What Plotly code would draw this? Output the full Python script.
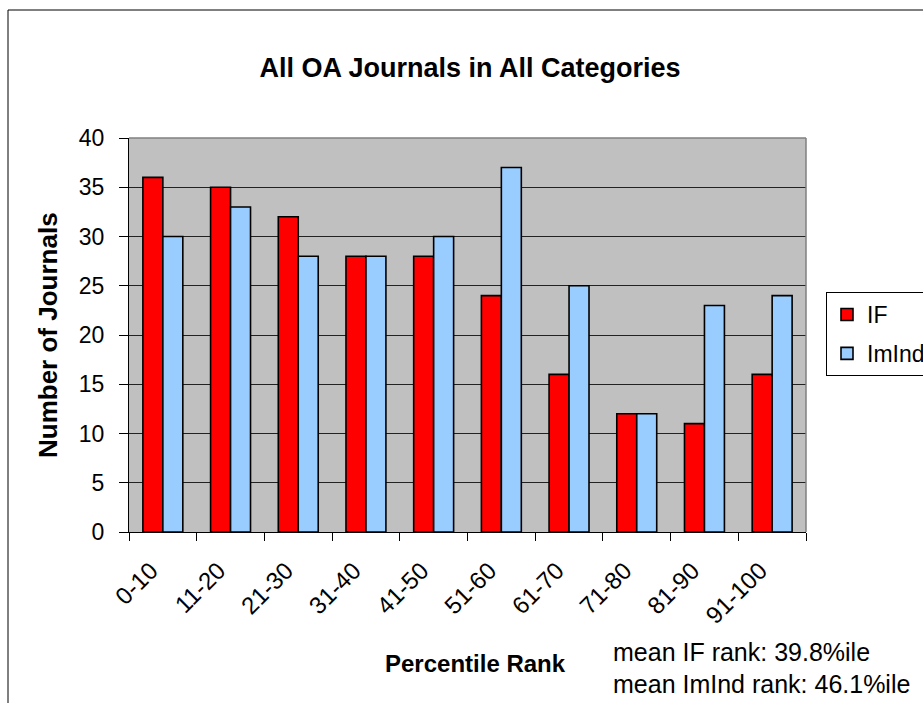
import plotly.graph_objects as go

# Percentile-rank bins and journal counts per metric
categories = ["0-10", "11-20", "21-30", "31-40", "41-50",
              "51-60", "61-70", "71-80", "81-90", "91-100"]
if_counts = [36, 35, 32, 28, 28, 24, 16, 12, 11, 16]
imind_counts = [30, 33, 28, 28, 30, 37, 25, 12, 23, 24]
y_ticks = [0, 5, 10, 15, 20, 25, 30, 35, 40]
mean_notes = ["mean IF rank: 39.8%ile", "mean ImInd rank: 46.1%ile"]

W, H = 923, 703
ML, MR, MT, MB = 129, 117, 138, 171
PW, PH = W - ML - MR, H - MT - MB
FONT = "Arial, Liberation Sans, sans-serif"


def px_x(x):
    return (x - ML) / PW


def px_y(y):
    return (H - MB - y) / PH


fig = go.Figure()
fig.add_trace(go.Bar(
    x=categories, y=if_counts, name="IF", legendgroup="a",
    marker=dict(color="#FF0000", line=dict(color="black", width=1.6)),
))
fig.add_trace(go.Bar(
    x=categories, y=imind_counts, name="ImInd", legendgroup="b",
    marker=dict(color="#99CCFF", line=dict(color="black", width=1.6)),
))

fig.update_layout(
    width=W, height=H,
    margin=dict(l=ML, r=MR, t=MT, b=MB, autoexpand=False),
    paper_bgcolor="white",
    plot_bgcolor="#C0C0C0",
    font=dict(family=FONT, size=24, color="black"),
    barmode="group",
    bargap=0.41,
    bargroupgap=0,
    title=dict(text="<b>All OA Journals in All Categories</b>",
               font=dict(size=27), x=px_x(470), xref="paper",
               xanchor="center", y=(H - 68) / H, yanchor="middle"),
    legend=dict(x=px_x(826), y=px_y(292), xanchor="left", yanchor="top",
                bgcolor="white", bordercolor="black", borderwidth=1,
                font=dict(size=23), traceorder="grouped",
                tracegroupgap=6, itemwidth=30),
    xaxis=dict(showline=True, linecolor="black", linewidth=1,
               ticks="outside", tickson="boundaries", ticklen=8,
               tickcolor="black", tickangle=-45, showgrid=False,
               tickfont=dict(size=24), ticklabelstandoff=14,
               ticklabelshift=-12),
    yaxis=dict(range=[0, 40], tickvals=y_ticks, showline=True,
               linecolor="black", linewidth=1, ticks="outside", ticklen=9,
               tickcolor="black", showgrid=True, gridcolor="#222222",
               gridwidth=1, zeroline=False, tickfont=dict(size=23),
               ticklabelstandoff=10),
    shapes=[
        # chart frame
        dict(type="rect", xref="paper", yref="paper",
             x0=px_x(8), y0=px_y(H + 20), x1=px_x(W + 20), y1=px_y(10),
             line=dict(color="black", width=1), fillcolor="rgba(0,0,0,0)"),
        # plot-area edges on top and right
        dict(type="line", xref="paper", yref="paper", x0=0, x1=1, y0=1, y1=1,
             line=dict(color="#808080", width=1.5)),
        dict(type="line", xref="paper", yref="paper", x0=1, x1=1, y0=0, y1=1,
             line=dict(color="#808080", width=1.5)),
    ],
    annotations=[
        dict(text="<b>Number of Journals</b>", xref="paper", yref="paper",
             x=px_x(48), y=0.5, textangle=-90, showarrow=False,
             font=dict(size=26), xanchor="center", yanchor="middle"),
        dict(text="<b>Percentile Rank</b>", xref="paper", yref="paper",
             x=px_x(475), y=px_y(663), showarrow=False,
             font=dict(size=24), xanchor="center", yanchor="middle"),
        dict(text=mean_notes[0], xref="paper", yref="paper",
             x=px_x(611), y=px_y(652), showarrow=False,
             font=dict(size=25), xanchor="left", yanchor="middle"),
        dict(text=mean_notes[1], xref="paper", yref="paper",
             x=px_x(611), y=px_y(684), showarrow=False,
             font=dict(size=25), xanchor="left", yanchor="middle"),
    ],
)

fig.write_html("out.html")
